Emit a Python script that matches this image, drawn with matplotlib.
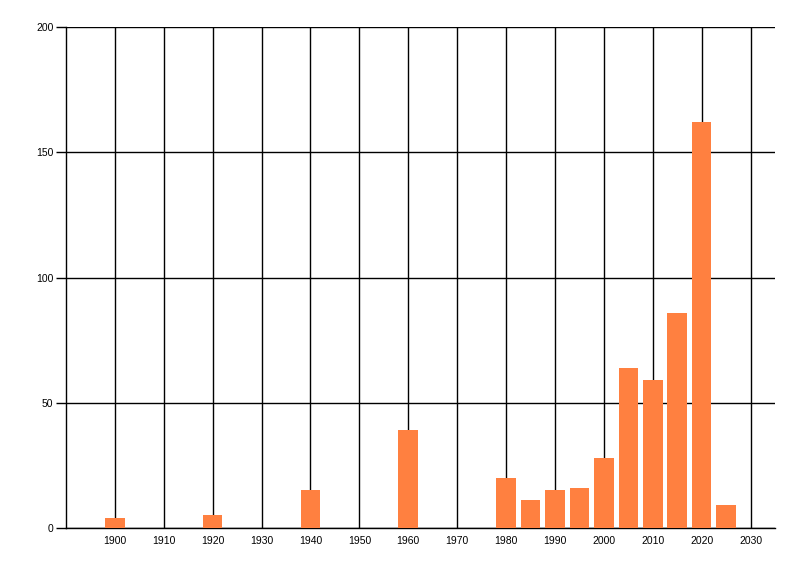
import matplotlib
matplotlib.use('Agg')
import matplotlib.pyplot as plt

# Yillar ve degerler
yillar = [1900, 1920, 1940, 1960, 1980, 1985, 1990, 1995, 2000, 2005, 2010, 2015, 2020, 2025]
degerler = [4, 5, 15, 39, 20, 11, 15, 16, 28, 64, 59, 86, 162, 9]
x_tikler = list(range(1900, 2031, 10))
y_tikler = [0, 50, 100, 150, 200]

plt.rcParams['font.family'] = ['Liberation Sans', 'DejaVu Sans']

fig = plt.figure(figsize=(8, 5.76), dpi=100)
ax = fig.add_axes([66 / 800, 48 / 576, 709 / 800, 501 / 576])

ax.bar(yillar, degerler, width=4, color='#FF8040', zorder=3)

ax.set_xlim(1890, 2035)
ax.set_ylim(0, 200)
ax.set_xticks(x_tikler)
ax.set_yticks(y_tikler)
ax.grid(True, color='black', linewidth=1)
ax.set_axisbelow(True)

for s in ['top', 'right']:
    ax.spines[s].set_visible(False)
for s in ['left', 'bottom']:
    ax.spines[s].set_color('black')
    ax.spines[s].set_linewidth(1)

ax.tick_params(axis='x', length=0, pad=6, labelsize=7.5)
ax.tick_params(axis='y', length=7, width=1, pad=2, labelsize=7.5)

plt.savefig('out.png', dpi=100)
